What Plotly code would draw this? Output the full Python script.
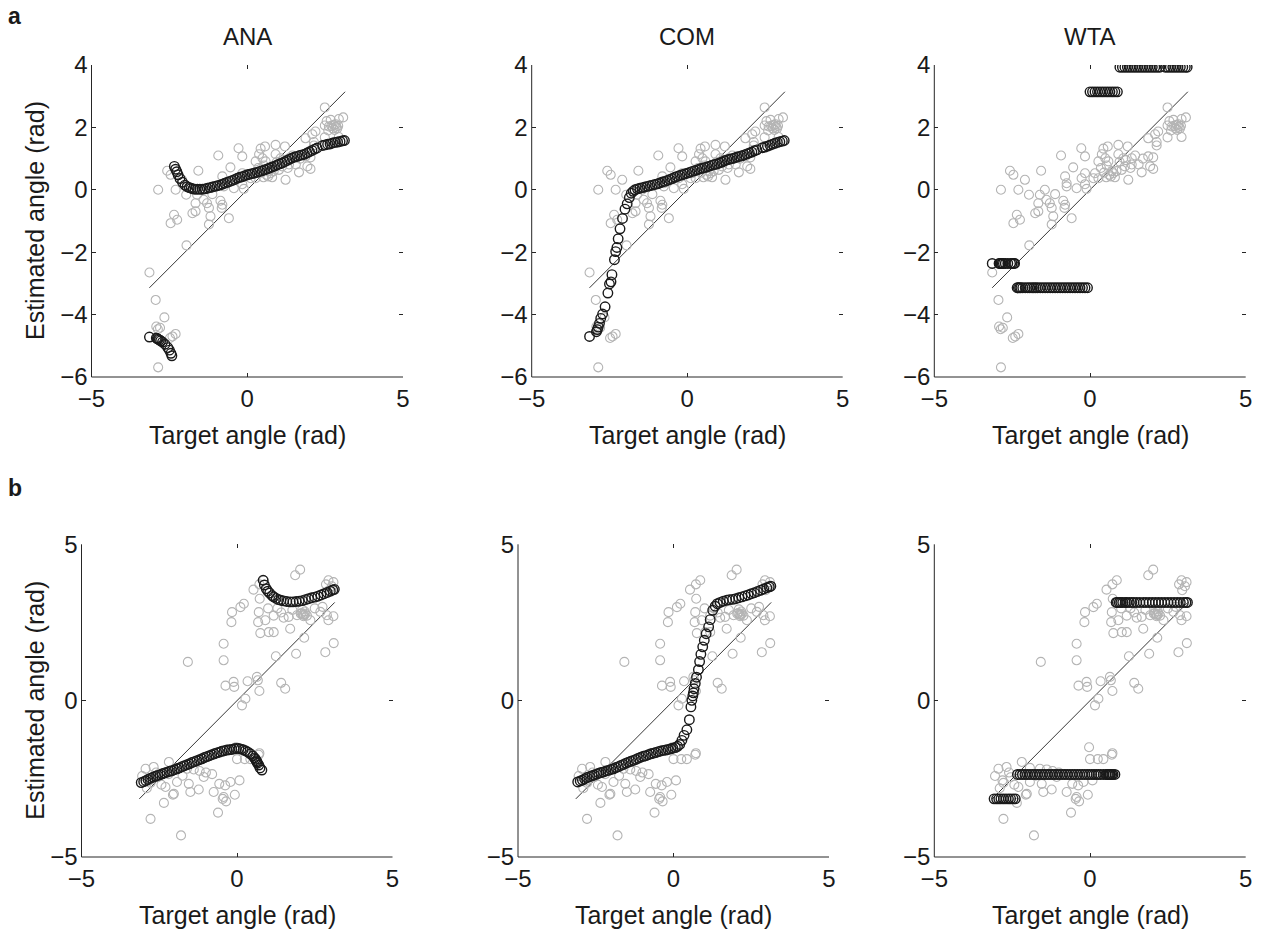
import numpy as np
import plotly.graph_objects as go

W, H = 1265, 932
FONT = "Liberation Sans, Arial, Helvetica, sans-serif"
GRAY = "#b4b4b4"
INK = "#1a1a1a"
AXIS = "#262626"

MODELS = ["ANA", "COM", "WTA"]

# ---------------- row a ----------------
# observed trials: target angle vs. estimated angle
obs_a_target = [
    2.49, 3.08, 2.94, 2.68, 2.84, 2.49, 2.62, 2.89, 2.75, 2.80,
    2.94, 2.49, 2.19, 2.09, 1.87, 2.14, 2.14, 2.70, 2.78, 2.85,
    -0.28, -0.16, -0.93, 0.43, 0.57, 0.91, 1.21, 0.38, 0.49, 0.91,
    1.07, 1.34, 1.34, 1.56, 1.87, 2.03, 2.03, 1.93, 1.66, 1.23,
    1.12, 1.02, 0.75, 0.67, 0.54, 0.59, 0.27, 0.16, 0.11, 0.27,
    -0.16, -0.27, -0.16, -0.54, -0.80, -0.75, -0.75, -0.43, -0.11, 0.62,
    0.70, 0.80, 0.45, 0.95, 1.15, 1.45, 1.70, 0.35, -1.57, -2.57,
    -2.46, -2.09, -2.86, -2.30, -1.96, -1.61, -1.45, -1.12, -1.40, -1.66,
    -1.29, -0.86, -0.80, -0.82, -1.76, -1.66, -1.23, -1.18, -1.23, -2.35,
    -2.46, -2.25, -0.59, -1.95, -3.14, -2.94, -2.66, -2.92, -2.87, -2.80,
    -2.48, -2.30, -2.40, -2.86, 0.52, 0.85, 1.30, 2.60, 2.92, 2.55,
]
obs_a_estimate = [
    2.64, 2.32, 2.27, 2.24, 2.10, 2.06, 2.03, 1.97, 1.97, 1.92,
    1.69, 1.68, 1.87, 1.78, 1.65, 1.53, 1.42, 2.05, 2.08, 2.02,
    1.33, 1.07, 1.10, 1.32, 1.39, 1.44, 1.39, 1.14, 1.01, 1.14,
    1.01, 1.01, 0.81, 0.81, 1.07, 1.04, 0.67, 0.75, 0.56, 0.32,
    0.75, 0.64, 0.53, 0.43, 0.78, 0.91, 0.91, 0.53, 0.37, 0.37,
    0.53, 0.37, 0.18, 0.72, 0.43, 0.21, 0.11, 0.05, 0.03, 0.48,
    0.60, 0.40, 0.55, 0.90, 0.95, 1.10, 1.00, 0.70, 0.61, 0.61,
    0.48, 0.32, 0.00, 0.00, -0.16, -0.16, 0.00, -0.14, -0.32, -0.43,
    -0.43, -0.35, -0.48, -0.58, -0.75, -0.69, -0.58, -0.85, -1.11, -0.80,
    -1.07, -0.96, -0.91, -1.78, -2.65, -3.53, -4.09, -4.38, -4.47, -4.42,
    -4.75, -4.62, -4.70, -5.69, 0.40, 0.60, 0.70, 1.90, 2.05, 2.20,
]

# model read-outs on a common set of target angles
fit_a_target = [
    -3.14, -2.92, -2.89, -2.86, -2.82, -2.78, -2.72, -2.64, -2.55, -2.50, -2.45, -2.42,
    -2.34, -2.30, -2.26, -2.22, -2.16, -2.08, -2.00, -1.93, -1.86, -1.80,
    -1.74, -1.68, -1.60, -1.52, -1.44, -1.36, -1.28, -1.20, -1.12, -1.04,
    -0.96, -0.88, -0.80, -0.72, -0.64, -0.56, -0.48, -0.40, -0.32, -0.24,
    -0.16, -0.08,
    0.00, 0.08, 0.16, 0.24, 0.32, 0.40, 0.48, 0.56, 0.64, 0.72, 0.80, 0.88,
    0.96, 1.04, 1.12, 1.20, 1.28, 1.36, 1.44, 1.52, 1.60, 1.68,
    1.76, 1.84, 1.92, 2.00, 2.08, 2.16, 2.24,
    2.42, 2.50, 2.58, 2.66, 2.74, 2.82, 2.90, 2.98, 3.06, 3.12,
]
fit_a_ana = [
    -4.72, -4.75, -4.77, -4.79, -4.81, -4.84, -4.88, -4.95, -5.06, -5.14, -5.24, -5.32,
    0.75, 0.66, 0.58, 0.48, 0.36, 0.24, 0.15, 0.10, 0.07, 0.05,
    0.03, 0.02, 0.02, 0.02, 0.02, 0.03, 0.05, 0.07, 0.09, 0.11,
    0.13, 0.15, 0.18, 0.21, 0.24, 0.27, 0.30, 0.33, 0.37, 0.40,
    0.42, 0.45,
    0.48, 0.50, 0.52, 0.54, 0.56, 0.59, 0.61, 0.64, 0.67, 0.70, 0.73, 0.76,
    0.80, 0.83, 0.86, 0.90, 0.94, 0.98, 1.02, 1.05, 1.07, 1.10,
    1.12, 1.14, 1.18, 1.22, 1.26, 1.30, 1.34,
    1.42, 1.44, 1.46, 1.47, 1.50, 1.52, 1.53, 1.55, 1.57, 1.58,
]
fit_a_com = [
    -4.70, -4.55, -4.48, -4.40, -4.28, -4.12, -3.98, -3.75, -3.31, -3.02, -2.95, -2.72,
    -2.24, -1.98, -1.85, -1.57, -1.25, -0.92, -0.62, -0.45, -0.25, -0.11,
    -0.05, 0.00, 0.03, 0.05, 0.07, 0.09, 0.11, 0.13, 0.15, 0.17,
    0.19, 0.22, 0.25, 0.27, 0.30, 0.33, 0.36, 0.40, 0.43, 0.46,
    0.48, 0.51,
    0.53, 0.56, 0.59, 0.61, 0.64, 0.67, 0.69, 0.71, 0.73, 0.76, 0.79, 0.81,
    0.83, 0.86, 0.89, 0.93, 0.96, 0.98, 1.00, 1.02, 1.05, 1.07,
    1.09, 1.12, 1.15, 1.18, 1.21, 1.25, 1.28,
    1.35, 1.37, 1.40, 1.43, 1.46, 1.49, 1.52, 1.54, 1.56, 1.58,
]
fit_a_wta = [
    -2.36, -2.36, -2.36, -2.36, -2.36, -2.36, -2.36, -2.36, -2.36, -2.36, -2.36, -2.36,
    -3.14, -3.14, -3.14, -3.14, -3.14, -3.14, -3.14, -3.14, -3.14, -3.14,
    -3.14, -3.14, -3.14, -3.14, -3.14, -3.14, -3.14, -3.14, -3.14, -3.14,
    -3.14, -3.14, -3.14, -3.14, -3.14, -3.14, -3.14, -3.14, -3.14, -3.14,
    -3.14, -3.14,
    3.14, 3.14, 3.14, 3.14, 3.14, 3.14, 3.14, 3.14, 3.14, 3.14, 3.14, 3.14,
    3.93, 3.93, 3.93, 3.93, 3.93, 3.93, 3.93, 3.93, 3.93, 3.93,
    3.93, 3.93, 3.93, 3.93, 3.93, 3.93, 3.93,
    3.93, 3.93, 3.93, 3.93, 3.93, 3.93, 3.93, 3.93, 3.93, 3.93,
]

# ---------------- row b ----------------
obs_b_target = [
    2.03, 1.87, 2.94, 3.10, 2.86, 3.05, 2.96, 0.86, 0.72, 0.53,
    0.73, 0.22, 0.11, -0.16, -0.18, 0.70, 0.68, 0.91, 1.18, 1.42,
    1.50, 1.66, 1.78, 1.93, 2.05, 2.14, 2.20, 2.25, 2.18, 2.10,
    2.36, 2.68, 2.89, 2.94, 3.10, 1.00, 1.30, 2.50, 2.75, 2.12,
    2.16, 2.08, 0.75, 1.02, 1.18, 1.71, 2.16, 1.25, 1.90, 3.11,
    2.84, -0.43, -0.43, -1.58, -0.37, -0.11, -0.09, 0.34, 0.64, 0.67,
    0.72, 1.42, 1.55, 0.27, 0.16, -0.03, 0.00, 0.25, 0.43, 0.70,
    0.72, -2.94, -2.68, -2.19, -3.05, -2.81, -2.43, -2.30, -2.03, -2.35,
    -2.06, -2.78, -2.90, -2.55, -2.60, -1.93, -1.61, -1.39, -1.93, -1.55,
    -1.50, -1.23, -1.07, -0.75, -0.57, -0.38, -0.46, -0.35, -0.07, -0.21,
    0.08, -0.61, -2.78, -1.80, -1.00, -0.80, -1.20, -0.43, -2.20, -1.75,
]
obs_b_estimate = [
    4.19, 4.01, 3.85, 3.79, 3.72, 3.66, 3.53, 3.85, 3.72, 3.55,
    3.26, 3.10, 2.99, 2.83, 2.51, 2.83, 2.51, 2.57, 2.72, 2.82,
    2.65, 2.68, 2.90, 2.73, 2.78, 2.70, 2.78, 2.72, 2.85, 2.92,
    2.57, 2.84, 2.73, 2.57, 2.70, 2.95, 2.95, 2.95, 3.00, 2.76,
    2.74, 2.80, 2.16, 2.19, 2.19, 2.30, 2.01, 1.42, 1.50, 1.84,
    1.55, 1.82, 1.29, 1.24, 0.48, 0.60, 0.44, 0.62, 0.76, 0.65,
    0.31, 0.57, 0.38, 0.06, -0.15, -1.49, -1.87, -1.87, -1.87, -1.73,
    -1.68, -2.18, -2.12, -1.96, -2.41, -2.55, -2.69, -2.76, -2.98, -3.27,
    -3.01, -2.63, -2.80, -2.45, -2.30, -2.15, -2.18, -2.20, -2.60, -2.66,
    -2.92, -2.84, -2.44, -2.92, -2.66, -2.71, -3.14, -3.22, -3.01, -2.60,
    -2.55, -3.58, -3.78, -4.31, -2.30, -2.35, -2.25, -3.08, -2.35, -2.40,
]

fit_b_target = [
    -3.08, -3.00, -2.93, -2.86, -2.78, -2.70, -2.62, -2.55, -2.47, -2.40,
    -2.33, -2.25, -2.17, -2.09, -2.01, -1.93, -1.85, -1.77, -1.69, -1.61,
    -1.53, -1.45, -1.37, -1.29, -1.21, -1.13, -1.05, -0.97, -0.89, -0.81,
    -0.73, -0.65, -0.57, -0.49, -0.41, -0.33, -0.25, -0.17, -0.09, -0.02,
    0.06, 0.13, 0.20, 0.27, 0.34, 0.43, 0.51, 0.56, 0.59, 0.62,
    0.64, 0.66, 0.70, 0.74, 0.80,
    0.84, 0.88, 0.94, 0.99, 1.05, 1.13, 1.18, 1.26, 1.34, 1.41,
    1.50, 1.60, 1.71, 1.80, 1.90, 2.00, 2.10, 2.20, 2.30, 2.40,
    2.50, 2.60, 2.70, 2.80, 2.90, 3.00, 3.08, 3.13,
]
fit_b_ana = [
    -2.62, -2.59, -2.56, -2.52, -2.48, -2.45, -2.42, -2.39, -2.37, -2.34,
    -2.31, -2.29, -2.26, -2.24, -2.21, -2.18, -2.15, -2.11, -2.08, -2.05,
    -2.02, -1.98, -1.95, -1.92, -1.89, -1.86, -1.82, -1.79, -1.76, -1.73,
    -1.70, -1.67, -1.65, -1.62, -1.60, -1.58, -1.57, -1.56, -1.54, -1.53,
    -1.53, -1.55, -1.57, -1.60, -1.64, -1.70, -1.77, -1.83, -1.87, -1.92,
    -1.96, -2.00, -2.06, -2.15, -2.22,
    3.85, 3.70, 3.58, 3.50, 3.44, 3.36, 3.32, 3.27, 3.23, 3.21,
    3.19, 3.17, 3.16, 3.16, 3.17, 3.18, 3.20, 3.23, 3.26, 3.29,
    3.31, 3.34, 3.38, 3.42, 3.46, 3.50, 3.54, 3.56,
]
fit_b_com = [
    -2.60, -2.57, -2.54, -2.50, -2.46, -2.43, -2.40, -2.38, -2.35, -2.32,
    -2.30, -2.28, -2.25, -2.23, -2.20, -2.18, -2.14, -2.11, -2.07, -2.04,
    -2.00, -1.97, -1.94, -1.91, -1.88, -1.84, -1.81, -1.78, -1.76, -1.73,
    -1.70, -1.68, -1.66, -1.63, -1.61, -1.59, -1.58, -1.56, -1.54, -1.52,
    -1.50, -1.46, -1.40, -1.27, -1.11, -0.93, -0.61, -0.20, 0.01, 0.15,
    0.25, 0.38, 0.55, 0.75, 0.99,
    1.25, 1.48, 1.72, 1.93, 2.14, 2.36, 2.59, 2.89, 3.02, 3.10,
    3.14, 3.18, 3.21, 3.23, 3.24, 3.26, 3.29, 3.32, 3.35, 3.38,
    3.42, 3.45, 3.49, 3.53, 3.57, 3.61, 3.64, 3.66,
]
fit_b_wta = [
    -3.14, -3.14, -3.14, -3.14, -3.14, -3.14, -3.14, -3.14, -3.14, -3.14,
    -2.36, -2.36, -2.36, -2.36, -2.36, -2.36, -2.36, -2.36, -2.36, -2.36,
    -2.36, -2.36, -2.36, -2.36, -2.36, -2.36, -2.36, -2.36, -2.36, -2.36,
    -2.36, -2.36, -2.36, -2.36, -2.36, -2.36, -2.36, -2.36, -2.36, -2.36,
    -2.36, -2.36, -2.36, -2.36, -2.36, -2.36, -2.36, -2.36, -2.36, -2.36,
    -2.36, -2.36, -2.36, -2.36, -2.36,
    3.14, 3.14, 3.14, 3.14, 3.14, 3.14, 3.14, 3.14, 3.14, 3.14,
    3.14, 3.14, 3.14, 3.14, 3.14, 3.14, 3.14, 3.14, 3.14, 3.14,
    3.14, 3.14, 3.14, 3.14, 3.14, 3.14, 3.14, 3.14,
]

# identity reference line endpoints
diag = [-np.pi, np.pi]

# axis settings per row
rows = [
    dict(obs=(obs_a_target, obs_a_estimate), fit_x=fit_a_target,
         fits=[fit_a_ana, fit_a_com, fit_a_wta],
         yrange=[-6, 4], yticks=[-6, -4, -2, 0, 2, 4],
         xdom=[(91.5, 403.0), (531.7, 842.7), (934.3, 1245.7)],
         ydom=(65.0, 377.0), letter="a", letter_y=16),
    dict(obs=(obs_b_target, obs_b_estimate), fit_x=fit_b_target,
         fits=[fit_b_ana, fit_b_com, fit_b_wta],
         yrange=[-5, 5], yticks=[-5, 0, 5],
         xdom=[(81.5, 392.5), (518.0, 829.0), (934.3, 1245.7)],
         ydom=(544.3, 857.0), letter="b", letter_y=488),
]

fig = go.Figure()
layout = dict(
    width=W, height=H, margin=dict(l=0, r=0, t=0, b=0, autoexpand=False),
    paper_bgcolor="white", plot_bgcolor="white", showlegend=False,
    font=dict(family=FONT, size=22, color=INK),
)
shapes, annotations = [], []

k = 0
for r, row in enumerate(rows):
    y0p, y1p = row["ydom"]
    ydomain = [1 - y1p / H, 1 - y0p / H]
    for c in range(3):
        k += 1
        xs = "" if k == 1 else str(k)
        xref, yref = "x" + xs, "y" + xs
        x0p, x1p = row["xdom"][c]
        layout["xaxis" + xs] = dict(
            domain=[x0p / W, x1p / W], anchor=yref, range=[-5, 5],
            tickvals=[-5, 0, 5], ticks="inside", ticklen=4, tickwidth=1,
            tickcolor=AXIS, mirror="ticks", showline=False, showgrid=False,
            zeroline=False, automargin=False,
            tickfont=dict(family=FONT, size=24, color=INK),
            ticklabelstandoff=5, fixedrange=True,
        )
        layout["yaxis" + xs] = dict(
            domain=ydomain, anchor=xref, range=row["yrange"],
            tickvals=row["yticks"], ticks="inside", ticklen=4, tickwidth=1,
            tickcolor=AXIS, mirror="ticks", showline=False, showgrid=False,
            zeroline=False, automargin=False,
            tickfont=dict(family=FONT, size=24, color=INK),
            ticklabelstandoff=3, fixedrange=True,
        )
        # left and bottom spines
        for (ax0, ay0, ax1, ay1) in [(0, 0, 1, 0), (0, 0, 0, 1)]:
            shapes.append(dict(type="line", xref=xref + " domain", yref=yref + " domain",
                               x0=ax0, y0=ay0, x1=ax1, y1=ay1,
                               line=dict(color=AXIS, width=1)))

        fig.add_trace(go.Scatter(x=diag, y=diag, mode="lines", xaxis=xref, yaxis=yref,
                                 line=dict(color="#202020", width=0.9), hoverinfo="skip"))
        fig.add_trace(go.Scatter(x=row["obs"][0], y=row["obs"][1], mode="markers",
                                 xaxis=xref, yaxis=yref,
                                 marker=dict(symbol="circle-open", size=9, color=GRAY,
                                             line=dict(width=1.1))))
        fig.add_trace(go.Scatter(x=row["fit_x"], y=row["fits"][c], mode="markers",
                                 xaxis=xref, yaxis=yref,
                                 marker=dict(symbol="circle-open", size=9.5, color=INK,
                                             line=dict(width=1.4))))

        cx = (x0p + x1p) / 2 / W
        annotations.append(dict(text="Target angle (rad)", x=cx, y=1 - (y1p + 58) / H,
                                xref="paper", yref="paper", showarrow=False,
                                xanchor="center", yanchor="middle",
                                font=dict(family=FONT, size=25, color=INK)))
        if r == 0:
            annotations.append(dict(text=MODELS[c], x=cx, y=1 - 37 / H,
                                    xref="paper", yref="paper", showarrow=False,
                                    xanchor="center", yanchor="middle",
                                    font=dict(family=FONT, size=24, color=INK)))
    annotations.append(dict(text="Estimated angle (rad)", x=35 / W,
                            y=(ydomain[0] + ydomain[1]) / 2, xref="paper", yref="paper",
                            showarrow=False, textangle=-90, xanchor="center",
                            yanchor="middle", font=dict(family=FONT, size=25, color=INK)))
    annotations.append(dict(text="<b>%s</b>" % row["letter"], x=6 / W,
                            y=1 - row["letter_y"] / H, xref="paper", yref="paper",
                            showarrow=False, xanchor="left", yanchor="middle",
                            font=dict(family=FONT, size=23, color=INK)))

layout["shapes"] = shapes
layout["annotations"] = annotations
fig.update_layout(**layout)
fig.write_html("out.html")
